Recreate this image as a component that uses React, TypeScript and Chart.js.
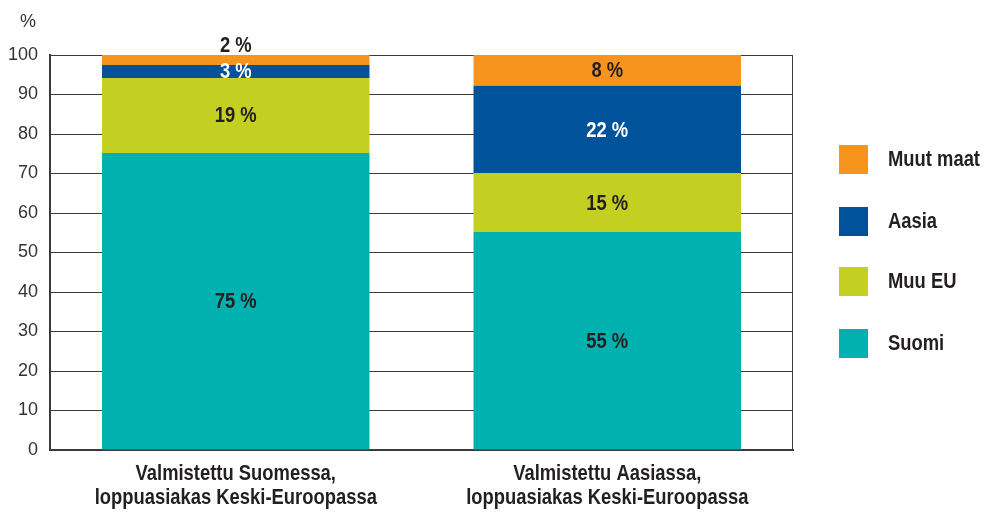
import React, { useEffect, useRef } from "react";
import { Chart, registerables } from "chart.js";

Chart.register(...registerables);

const categories: string[][] = [
  ["Valmistettu Suomessa,", "loppuasiakas Keski-Euroopassa"],
  ["Valmistettu Aasiassa,", "loppuasiakas Keski-Euroopassa"],
];
const seriesNames = ["Suomi", "Muu EU", "Aasia", "Muut maat"];
const suomi = [75.2, 55.2];
const muuEU = [19, 14.9];
const aasia = [3.3, 22.1];
const muutMaat = [2.5, 7.8];
const labelsSuomi = [75, 55];
const labelsMuuEU = [19, 15];
const labelsAasia = [3, 22];
const labelsMuutMaat = [2, 8];
const yTicks = [0, 10, 20, 30, 40, 50, 60, 70, 80, 90, 100];
const colors = ["#00B1B0", "#C3CF21", "#00529B", "#F7941D"];
const labelColors = ["#231F20", "#231F20", "#FFFFFF", "#231F20"];

const BOLD = "bold 22px 'Liberation Sans', Arial, sans-serif";
const REG = "'Liberation Sans', Arial, sans-serif";

export default function App() {
  const ref = useRef<HTMLCanvasElement | null>(null);
  useEffect(() => {
    document.body.style.margin = "0";
    const allLabels = [labelsSuomi, labelsMuuEU, labelsAasia, labelsMuutMaat];
    const plugin = {
      id: "custom",
      afterDatasetsDraw(chart: any) {
        const ctx = chart.ctx;
        const ca = chart.chartArea;
        ctx.save();
        ctx.font = BOLD;
        const sx = 92 / ctx.measureText("Muut maat").width;
        const cText = (t: string, x: number, y: number, align: string) => {
          ctx.save();
          ctx.translate(x, y);
          ctx.scale(sx, 1);
          ctx.textAlign = align;
          ctx.textBaseline = "middle";
          ctx.font = BOLD;
          ctx.fillText(t, 0, 0);
          ctx.restore();
        };
        // frame right
        ctx.strokeStyle = "#3a3a3a";
        ctx.lineWidth = 1;
        ctx.beginPath();
        ctx.moveTo(Math.round(ca.right) - 0.5, ca.top);
        ctx.lineTo(Math.round(ca.right) - 0.5, ca.bottom);
        ctx.stroke();
        // value labels
        chart.data.datasets.forEach((ds: any, di: number) => {
          const meta = chart.getDatasetMeta(di);
          meta.data.forEach((bar: any, i: number) => {
            const v = allLabels[di][i];
            const top = Math.min(bar.y, bar.base);
            const bottom = Math.max(bar.y, bar.base);
            let y = (top + bottom) / 2;
            let color = labelColors[di];
            if (bottom - top < 12) {
              y = top - 10;
              color = "#231F20";
            }
            ctx.fillStyle = color;
            cText(v + " %", bar.x, y + 1, "center");
          });
        });
        // x category labels
        const xs = chart.scales.x;
        ctx.fillStyle = "#231F20";
        categories.forEach((lines, i) => {
          const x = xs.getPixelForValue(i);
          lines.forEach((ln, k) => cText(ln, x, ca.bottom + 24 + k * 24, "center"));
        });
        // % unit
        ctx.font = "18px " + REG;
        ctx.fillStyle = "#333333";
        ctx.textAlign = "center";
        ctx.textBaseline = "middle";
        ctx.fillText("%", 28, 22);
        // legend
        const order = [3, 2, 1, 0];
        const ys = [159, 221, 281, 343];
        order.forEach((di, k) => {
          ctx.fillStyle = colors[di];
          ctx.fillRect(839, ys[k] - 14, 29, 29);
          ctx.fillStyle = "#231F20";
          cText(seriesNames[di], 888, ys[k] + 1, "left");
        });
        ctx.restore();
      },
    };
    const series = [suomi, muuEU, aasia, muutMaat];
    const chart = new Chart(ref.current as HTMLCanvasElement, {
      type: "bar",
      data: {
        labels: categories,
        datasets: series.map((d, i) => ({
          label: seriesNames[i],
          data: d,
          backgroundColor: colors[i],
          borderWidth: 0,
          barPercentage: 0.72,
          categoryPercentage: 1,
        })),
      },
      options: {
        animation: false,
        responsive: false,
        maintainAspectRatio: false,
        layout: { padding: { top: 55, right: 191, left: 0, bottom: 0 } },
        plugins: { legend: { display: false }, tooltip: { enabled: false } },
        scales: {
          x: {
            stacked: true,
            grid: { display: false, drawTicks: false },
            border: { display: true, color: "#3a3a3a", width: 2 },
            ticks: { display: false },
            afterFit(scale: any) {
              scale.height = 62;
            },
          },
          y: {
            stacked: true,
            min: 0,
            max: 100,
            afterBuildTicks(scale: any) {
              scale.ticks = yTicks.map((v) => ({ value: v }));
            },
            grid: { color: "#3a3a3a", lineWidth: 1, drawTicks: false },
            border: { display: true, color: "#3a3a3a", width: 2 },
            ticks: {
              padding: 12,
              color: "#333333",
              font: { family: REG, size: 18 },
            },
            afterFit(scale: any) {
              scale.width = 50;
            },
          },
        },
      },
      plugins: [plugin],
    });
    return () => chart.destroy();
  }, []);
  return (
    <div style={{ width: 984, height: 512 }}>
      <canvas ref={ref} width={984} height={512} style={{ width: 984, height: 512, display: "block" }} />
    </div>
  );
}
